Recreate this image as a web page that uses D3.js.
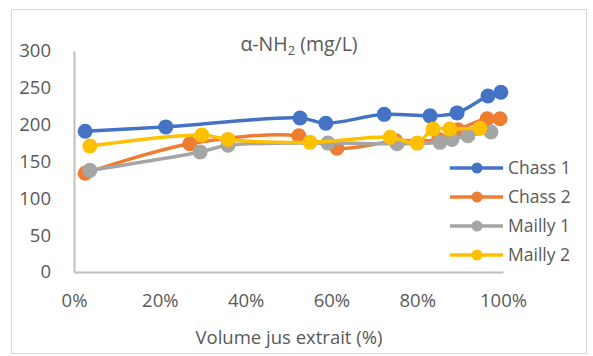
<!DOCTYPE html>
<html>
<head>
<meta charset="utf-8">
<script src="https://cdn.jsdelivr.net/npm/d3@7/dist/d3.min.js"></script>
<style>
  html, body { margin: 0; padding: 0; background: #fff; }
  svg { display: block; }
  text { font-family: "Open Sans", "Noto Sans", sans-serif; fill: #595959; }
</style>
</head>
<body>
<svg id="chart" width="593" height="356"></svg>
<script>
// Volume of juice extracted (%) and α-NH2 content (mg/L) for each press run
const chass1X  = [2.6, 21.4, 52.7, 58.7, 72.3, 83.0, 89.3, 96.5, 99.5];
const chass1Y  = [191, 197, 209, 202, 214, 212, 216, 239, 244];
const chass2X  = [2.6, 27.0, 52.4, 61.3, 75.0, 85.0, 89.5, 96.3, 99.3];
const chass2Y  = [134, 174, 185, 168, 178, 180, 193, 208, 208];
const mailly1X = [3.7, 29.4, 35.9, 59.2, 75.3, 85.3, 88.1, 91.8, 97.2];
const mailly1Y = [138, 163, 172, 175, 174, 176, 180, 185, 190];
const mailly2X = [3.7, 29.8, 35.9, 55.0, 73.7, 80.0, 83.7, 87.6, 94.6];
const mailly2Y = [171, 186, 180, 176, 183, 175, 194, 194, 195];

const seriesNames = ["Chass 1", "Chass 2", "Mailly 1", "Mailly 2"];
const seriesColors = ["#4472C4", "#ED7D31", "#A5A5A5", "#FFC000"];
const xTicks = [0, 20, 40, 60, 80, 100];
const yTicks = [0, 50, 100, 150, 200, 250, 300];

const series = [
  { name: seriesNames[0], color: seriesColors[0], xs: chass1X, ys: chass1Y },
  { name: seriesNames[1], color: seriesColors[1], xs: chass2X, ys: chass2Y },
  { name: seriesNames[2], color: seriesColors[2], xs: mailly1X, ys: mailly1Y },
  { name: seriesNames[3], color: seriesColors[3], xs: mailly2X, ys: mailly2Y }
].map(s => ({ ...s, points: s.xs.map((x, i) => ({ x, y: s.ys[i] })) }));

const svg = d3.select("#chart");

// outer frame
svg.append("rect")
  .attr("x", 11.5).attr("y", 9.5)
  .attr("width", 575).attr("height", 344)
  .attr("fill", "#fff").attr("stroke", "#D9D9D9").attr("stroke-width", 1);

const plot = { left: 74, right: 503, top: 51, bottom: 272 };

const x = d3.scaleLinear().domain([0, 100]).range([plot.left, plot.right]);
const y = d3.scaleLinear().domain([0, 300]).range([plot.bottom, plot.top]);

// axes
const xAxis = svg.append("g")
  .attr("transform", `translate(0,${plot.bottom})`)
  .call(d3.axisBottom(x).tickValues(xTicks).tickFormat(d => d + "%").tickSize(0).tickPadding(22));
const yAxis = svg.append("g")
  .attr("transform", `translate(${plot.left},0)`)
  .call(d3.axisLeft(y).tickValues(yTicks).tickSize(0).tickPadding(23));

[xAxis, yAxis].forEach(g => {
  g.select(".domain").attr("stroke", "#BFBFBF").attr("stroke-width", 2);
  g.selectAll("text").attr("font-size", 18.5).attr("fill", "#595959")
    .attr("font-family", "'Open Sans', sans-serif");
});

// title
const title = svg.append("text")
  .attr("x", 299).attr("y", 51)
  .attr("text-anchor", "middle")
  .attr("font-size", 19.5);
title.append("tspan").text("α-NH");
title.append("tspan").attr("font-size", 13).attr("dy", 4).text("2");
title.append("tspan").attr("dy", -4).text(" (mg/L)");

// x axis title
svg.append("text")
  .attr("x", 289).attr("y", 344)
  .attr("text-anchor", "middle")
  .attr("font-size", 18.5)
  .text("Volume jus extrait (%)");

// series lines and markers
const line = d3.line()
  .x(d => x(d.x)).y(d => y(d.y))
  .curve(d3.curveCatmullRom.alpha(0.5));

const sg = svg.selectAll("g.series").data(series).join("g").attr("class", "series");
sg.append("path")
  .attr("d", d => line(d.points))
  .attr("fill", "none")
  .attr("stroke", d => d.color)
  .attr("stroke-width", 3.5)
  .attr("stroke-linejoin", "round");
sg.selectAll("circle").data(d => d.points.map(p => ({ ...p, color: d.color })))
  .join("circle")
  .attr("cx", d => x(d.x)).attr("cy", d => y(d.y))
  .attr("r", 7.5)
  .attr("fill", d => d.color);

// legend
const legend = svg.append("g").selectAll("g").data(series).join("g")
  .attr("transform", (d, i) => `translate(450,${168 + i * 29})`);
legend.append("line")
  .attr("x1", 0).attr("x2", 53).attr("y1", 0).attr("y2", 0)
  .attr("stroke", d => d.color).attr("stroke-width", 3.5);
legend.append("circle").attr("cx", 27).attr("cy", 0).attr("r", 5.5)
  .attr("fill", d => d.color);
legend.append("text")
  .attr("x", 58).attr("y", 0).attr("dy", "0.35em")
  .attr("font-size", 17.5)
  .text(d => d.name);
</script>
</body>
</html>
